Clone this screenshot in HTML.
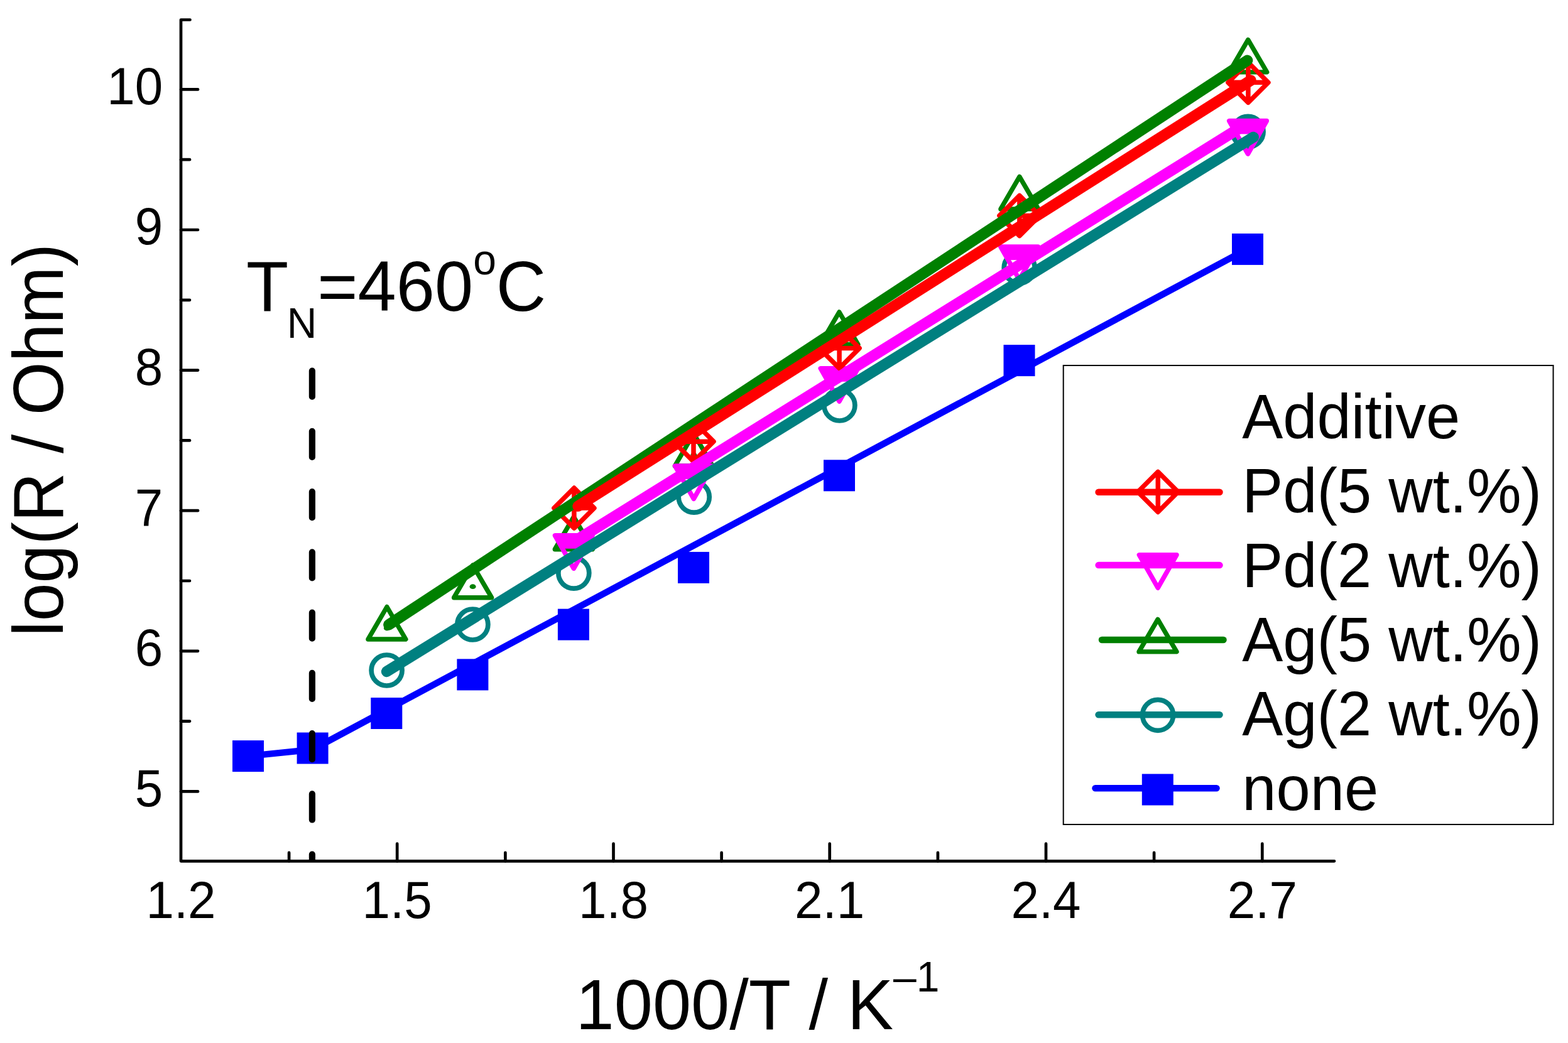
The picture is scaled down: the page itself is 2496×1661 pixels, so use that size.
<!DOCTYPE html>
<html lang="en"><head><meta charset="utf-8"><title>log(R / Ohm) vs 1000/T</title>
<style>html,body{margin:0;padding:0;background:#fff;overflow:hidden}svg{display:block}</style></head>
<body>
<svg width="2496" height="1661" viewBox="0 0 2496 1661" font-family="'Liberation Sans', sans-serif" role="img" aria-label="Plot of log(R / Ohm) versus 1000/T">
<rect width="2496" height="1661" fill="#fff"/>
<g stroke="#000" stroke-width="4.7" stroke-linecap="round" stroke-linejoin="round" fill="none">
<path d="M302.5 31.5 H288.0 V1371.3 H2124.0"/>
<path d="M288.0 1260.4 h27"/>
<path d="M288.0 1148.6 h14"/>
<path d="M288.0 1036.8 h27"/>
<path d="M288.0 925.0 h14"/>
<path d="M288.0 813.2 h27"/>
<path d="M288.0 701.4 h14"/>
<path d="M288.0 589.6 h27"/>
<path d="M288.0 477.8 h14"/>
<path d="M288.0 366.0 h27"/>
<path d="M288.0 254.2 h14"/>
<path d="M288.0 142.4 h27"/>
<path d="M460.1 1371.3 v-13.4"/>
<path d="M632.2 1371.3 v-27.6"/>
<path d="M804.4 1371.3 v-13.4"/>
<path d="M976.5 1371.3 v-27.6"/>
<path d="M1148.6 1371.3 v-13.4"/>
<path d="M1320.7 1371.3 v-27.6"/>
<path d="M1492.9 1371.3 v-13.4"/>
<path d="M1665.0 1371.3 v-27.6"/>
<path d="M1837.1 1371.3 v-13.4"/>
<path d="M2009.3 1371.3 v-27.6"/>
</g>
<g fill="#000">
<text transform="translate(259.3,1283.7) scale(1,1.035)" font-size="80" text-anchor="end">5</text>
<text transform="translate(259.3,1060.1) scale(1,1.035)" font-size="80" text-anchor="end">6</text>
<text transform="translate(259.3,836.5) scale(1,1.035)" font-size="80" text-anchor="end">7</text>
<text transform="translate(259.3,612.9) scale(1,1.035)" font-size="80" text-anchor="end">8</text>
<text transform="translate(259.3,389.3) scale(1,1.035)" font-size="80" text-anchor="end">9</text>
<text transform="translate(259.3,165.7) scale(1,1.035)" font-size="80" text-anchor="end">10</text>
<text transform="translate(288.0,1462.4) scale(1,1.035)" font-size="80" text-anchor="middle">1.2</text>
<text transform="translate(632.2,1462.4) scale(1,1.035)" font-size="80" text-anchor="middle">1.5</text>
<text transform="translate(976.5,1462.4) scale(1,1.035)" font-size="80" text-anchor="middle">1.8</text>
<text transform="translate(1320.7,1462.4) scale(1,1.035)" font-size="80" text-anchor="middle">2.1</text>
<text transform="translate(1665.0,1462.4) scale(1,1.035)" font-size="80" text-anchor="middle">2.4</text>
<text transform="translate(2009.3,1462.4) scale(1,1.035)" font-size="80" text-anchor="middle">2.7</text>
</g>
<text transform="translate(1206.0,1639.0) scale(1,1.035)" font-size="110" text-anchor="middle">1000/T / K<tspan font-size="66" dy="-58.0">–1</tspan></text>
<text transform="translate(99.8,700.7) rotate(-90) scale(1,1.035)" font-size="109.3" text-anchor="middle">log(R / Ohm)</text>
<text transform="translate(392.0,495.2) scale(1,1.035)" font-size="110" text-anchor="start">T<tspan font-size="66" dy="41.2" dx="-2.5">N</tspan><tspan dy="-41.2" dx="1">=460</tspan><tspan font-size="66" dy="-56.5">o</tspan><tspan dy="56.5">C</tspan></text>
<path d="M395.0 1204.1 L497.6 1193.6 L1986.0 396.4" fill="none" stroke="#0000ff" stroke-width="10.5" stroke-linejoin="round"/>
<rect x="370.0" y="1179.1" width="50" height="50" fill="#0000ff"/>
<rect x="472.6" y="1166.5" width="50" height="50" fill="#0000ff"/>
<rect x="590.3" y="1111.0" width="50" height="50" fill="#0000ff"/>
<rect x="727.4" y="1049.4" width="50" height="50" fill="#0000ff"/>
<rect x="887.9" y="969.6" width="50" height="50" fill="#0000ff"/>
<rect x="1079.0" y="878.9" width="50" height="50" fill="#0000ff"/>
<rect x="1311.0" y="732.3" width="50" height="50" fill="#0000ff"/>
<rect x="1597.5" y="549.1" width="50" height="50" fill="#0000ff"/>
<rect x="1961.0" y="371.9" width="50" height="50" fill="#0000ff"/>
<clipPath id="pc"><rect x="288.0" y="20" width="1836.0" height="1351.3"/></clipPath>
<path clip-path="url(#pc)" d="M496.9 590.6 V1420" stroke="#000" stroke-width="10.2" stroke-linecap="round" stroke-dasharray="41.1 55.16" fill="none"/>
<circle cx="615.6" cy="1067.5" r="24.5" fill="none" stroke="#008080" stroke-width="7.7"/>
<circle cx="752.4" cy="994.5" r="24.5" fill="none" stroke="#008080" stroke-width="7.7"/>
<circle cx="913.3" cy="912.6" r="24.5" fill="none" stroke="#008080" stroke-width="7.7"/>
<circle cx="1104.7" cy="791.6" r="24.5" fill="none" stroke="#008080" stroke-width="7.7"/>
<circle cx="1336.4" cy="645.5" r="24.5" fill="none" stroke="#008080" stroke-width="7.7"/>
<circle cx="1622.7" cy="426.5" r="24.5" fill="none" stroke="#008080" stroke-width="7.7"/>
<circle cx="1986.6" cy="209.8" r="24.5" fill="none" stroke="#008080" stroke-width="7.7"/>
<path d="M615.9 966.5 L645.9 1018.0 L585.9 1018.0 Z" fill="none" stroke="#008000" stroke-width="7.4" stroke-linejoin="round"/><ellipse cx="615.9" cy="1000.5" rx="5" ry="3.9" fill="#008000"/>
<path d="M752.6 900.2 L782.6 951.7 L722.6 951.7 Z" fill="none" stroke="#008000" stroke-width="7.4" stroke-linejoin="round"/><ellipse cx="752.6" cy="934.2" rx="5" ry="3.9" fill="#008000"/>
<path d="M913.3 823.2 L943.3 874.7 L883.3 874.7 Z" fill="none" stroke="#008000" stroke-width="7.4" stroke-linejoin="round"/><ellipse cx="913.3" cy="857.2" rx="5" ry="3.9" fill="#008000"/>
<path d="M1104.3 690.5 L1134.3 742.0 L1074.3 742.0 Z" fill="none" stroke="#008000" stroke-width="7.4" stroke-linejoin="round"/><ellipse cx="1104.3" cy="724.5" rx="5" ry="3.9" fill="#008000"/>
<path d="M1335.9 497.0 L1365.9 548.5 L1305.9 548.5 Z" fill="none" stroke="#008000" stroke-width="7.4" stroke-linejoin="round"/><ellipse cx="1335.9" cy="531.0" rx="5" ry="3.9" fill="#008000"/>
<path d="M1622.9 281.4 L1652.9 332.9 L1592.9 332.9 Z" fill="none" stroke="#008000" stroke-width="7.4" stroke-linejoin="round"/><ellipse cx="1622.9" cy="315.4" rx="5" ry="3.9" fill="#008000"/>
<path d="M1986.7 63.4 L2016.7 114.9 L1956.7 114.9 Z" fill="none" stroke="#008000" stroke-width="7.4" stroke-linejoin="round"/><ellipse cx="1986.7" cy="97.4" rx="5" ry="3.9" fill="#008000"/>
<path d="M883.5 852.8 L943.1 852.8 L913.3 905.3 Z" fill="none" stroke="#ff00ff" stroke-width="7.5" stroke-linejoin="round"/><path d="M883.5 852.8 L943.1 852.8 L931.2 873.8 L895.4 873.8 Z" fill="#ff00ff"/>
<path d="M1074.5 741.9 L1134.1 741.9 L1104.3 794.4 Z" fill="none" stroke="#ff00ff" stroke-width="7.5" stroke-linejoin="round"/><path d="M1074.5 741.9 L1134.1 741.9 L1122.2 762.9 L1086.4 762.9 Z" fill="#ff00ff"/>
<path d="M1306.2 586.7 L1365.8 586.7 L1336.0 639.2 Z" fill="none" stroke="#ff00ff" stroke-width="7.5" stroke-linejoin="round"/><path d="M1306.2 586.7 L1365.8 586.7 L1353.9 607.7 L1318.1 607.7 Z" fill="#ff00ff"/>
<path d="M1592.8 392.9 L1652.4 392.9 L1622.6 445.4 Z" fill="none" stroke="#ff00ff" stroke-width="7.5" stroke-linejoin="round"/><path d="M1592.8 392.9 L1652.4 392.9 L1640.5 413.9 L1604.7 413.9 Z" fill="#ff00ff"/>
<path d="M1956.7 192.6 L2016.3 192.6 L1986.5 245.1 Z" fill="none" stroke="#ff00ff" stroke-width="7.5" stroke-linejoin="round"/><path d="M1956.7 192.6 L2016.3 192.6 L2004.4 213.6 L1968.6 213.6 Z" fill="#ff00ff"/>
<path d="M913.9 777.1 L945.9 809.1 L913.9 841.1 L881.9 809.1 Z M913.9 777.1 V841.1 M881.9 809.1 H945.9" fill="none" stroke="#ff0000" stroke-width="7.5" stroke-linejoin="round"/>
<path d="M1104.0 671.2 L1136.0 703.2 L1104.0 735.2 L1072.0 703.2 Z M1104.0 671.2 V735.2 M1072.0 703.2 H1136.0" fill="none" stroke="#ff0000" stroke-width="7.5" stroke-linejoin="round"/>
<path d="M1336.1 522.5 L1368.1 554.5 L1336.1 586.5 L1304.1 554.5 Z M1336.1 522.5 V586.5 M1304.1 554.5 H1368.1" fill="none" stroke="#ff0000" stroke-width="7.5" stroke-linejoin="round"/>
<path d="M1622.9 311.5 L1654.9 343.5 L1622.9 375.5 L1590.9 343.5 Z M1622.9 311.5 V375.5 M1590.9 343.5 H1654.9" fill="none" stroke="#ff0000" stroke-width="7.5" stroke-linejoin="round"/>
<path d="M1986.9 99.3 L2018.9 131.3 L1986.9 163.3 L1954.9 131.3 Z M1986.9 99.3 V163.3 M1954.9 131.3 H2018.9" fill="none" stroke="#ff0000" stroke-width="7.5" stroke-linejoin="round"/>
<path d="M618.9 994.9 L1985.6 96.2" stroke="#008000" stroke-width="17.5" stroke-linecap="round" fill="none"/>
<path d="M920.1 806.1 L1991.0 128.0" stroke="#ff0000" stroke-width="17.5" stroke-linecap="round" fill="none"/>
<path d="M913.5 862.8 L1980.0 199.8" stroke="#ff00ff" stroke-width="17.5" stroke-linecap="round" fill="none"/>
<path d="M615.6 1069.4 L1995.2 218.4" stroke="#008080" stroke-width="17.5" stroke-linecap="round" fill="none"/>
<rect x="1692.7" y="582.0" width="779.8" height="731.0" fill="#fff" stroke="#000" stroke-width="2"/>
<g fill="#000">
<text transform="translate(1977.3,697.5) scale(1,1.035)" font-size="97.5" text-anchor="start">Additive</text>
<text transform="translate(1977.3,815.9) scale(1,1.035)" font-size="97.5" text-anchor="start">Pd(5 wt.%)</text>
<text transform="translate(1977.3,935.0) scale(1,1.035)" font-size="97.5" text-anchor="start">Pd(2 wt.%)</text>
<text transform="translate(1977.3,1053.3) scale(1,1.035)" font-size="97.5" text-anchor="start">Ag(5 wt.%)</text>
<text transform="translate(1977.3,1170.5) scale(1,1.035)" font-size="97.5" text-anchor="start">Ag(2 wt.%)</text>
<text transform="translate(1977.3,1289.8) scale(1,1.035)" font-size="97.5" text-anchor="start">none</text>
</g>
<path d="M1748.6 783.7 H1941.5" stroke="#ff0000" stroke-width="10.5" stroke-linecap="round" fill="none"/>
<path d="M1843.3 751.4 L1875.3 783.4 L1843.3 815.4 L1811.3 783.4 Z M1843.3 751.4 V815.4 M1811.3 783.4 H1875.3" fill="none" stroke="#ff0000" stroke-width="7.5" stroke-linejoin="round"/>
<path d="M1748.6 900.1 H1941.5" stroke="#ff00ff" stroke-width="10.5" stroke-linecap="round" fill="none"/>
<path d="M1813.4 883.7 L1873.0 883.7 L1843.2 936.2 Z" fill="none" stroke="#ff00ff" stroke-width="7.5" stroke-linejoin="round"/><path d="M1813.4 883.7 L1873.0 883.7 L1861.1 904.7 L1825.3 904.7 Z" fill="#ff00ff"/>
<path d="M1754 1019.0 H1947.5" stroke="#008000" stroke-width="10.5" stroke-linecap="round" fill="none"/>
<path d="M1843.0 986.4 L1873.0 1037.9 L1813.0 1037.9 Z" fill="none" stroke="#008000" stroke-width="7.4" stroke-linejoin="round"/>
<path d="M1748.6 1138.2 H1941.5" stroke="#008080" stroke-width="10.5" stroke-linecap="round" fill="none"/>
<circle cx="1843.1" cy="1138.8" r="24.5" fill="none" stroke="#008080" stroke-width="7.7"/>
<path d="M1743.5 1255.2 H1936.5" stroke="#0000ff" stroke-width="10.5" stroke-linecap="round" fill="none"/>
<rect x="1817.8" y="1232.5" width="50" height="50" fill="#0000ff"/>
</svg>
</body></html>
